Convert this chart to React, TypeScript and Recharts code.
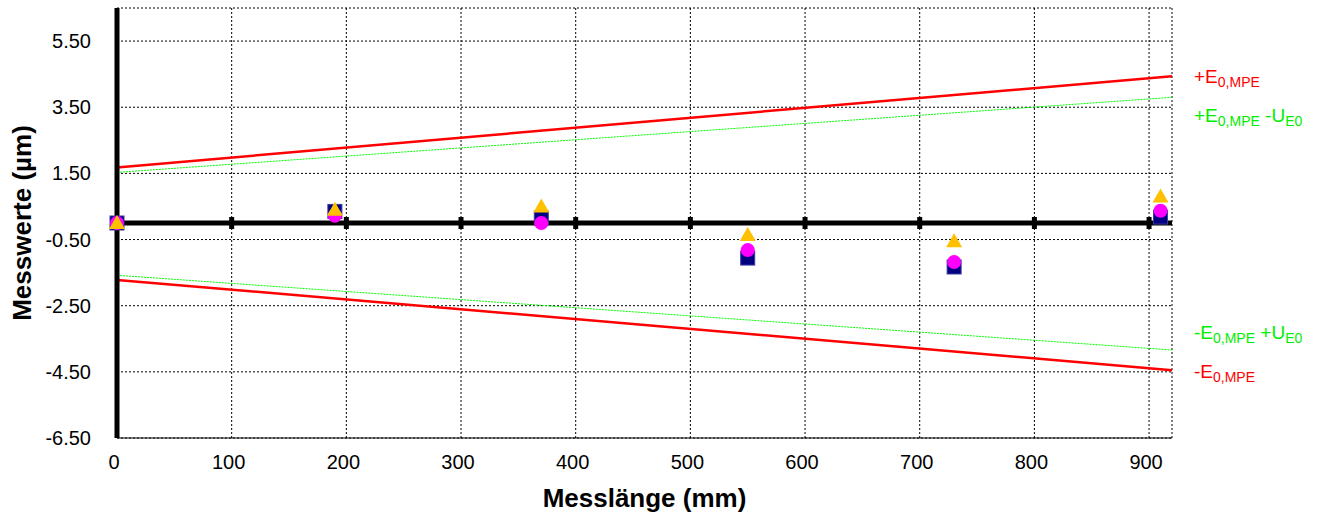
import { ComposedChart, Line, Scatter, XAxis, YAxis, CartesianGrid, ReferenceLine } from "recharts";

// measuring positions (mm) and the three measurement runs (µm)
const lengths = [0, 190, 370, 550, 730, 910];
const runSquare = [0, 0.35, 0.15, -1.06, -1.33, 0.18];
const runCircle = [0, 0.22, 0, -0.82, -1.18, 0.37];
const runTriangle = [0, 0.4, 0.5, -0.36, -0.55, 0.8];

// limit lines, read at both ends of the axis
const limitX = [0, 920];
const plusMpe = [1.68, 4.44];
const plusMpeMinusU = [1.53, 3.8];
const minusMpePlusU = [-1.58, -3.84];
const minusMpe = [-1.72, -4.45];

// little black marks on the zero line
const zeroMarks = [0, 100, 200, 300, 400, 500, 600, 700, 800, 900];

const xTicks = [0, 100, 200, 300, 400, 500, 600, 700, 800, 900];
const yTicks = [-6.5, -4.5, -2.5, -0.5, 1.5, 3.5, 5.5];

const font = "'Liberation Sans', Arial, sans-serif";

const toPoints = (xs: number[], ys: number[]) => xs.map((x, i) => ({ x, y: ys[i] }));

const squareShape = (p: any) => (
  <rect x={p.cx - 7} y={p.cy - 7} width={14} height={14} fill="#000080" stroke="#3a3aa0" strokeWidth={1} />
);
const circleShape = (p: any) => <circle cx={p.cx} cy={p.cy} r={7} fill="#ff00ff" />;
const triangleShape = (p: any) => (
  <polygon points={`${p.cx},${p.cy - 8} ${p.cx + 8},${p.cy + 6} ${p.cx - 8},${p.cy + 6}`} fill="#ffc000" />
);
const zeroMark = (p: any) => <rect x={p.cx - 2.5} y={p.cy - 6} width={5} height={12} fill="#000" />;

const endLabel = (sign: string, extra: string | null, color: string, dy: number) => (props: any) => {
  if (props.index !== limitX.length - 1) return null;
  return (
    <text x={props.x + 22} y={props.y + dy} fill={color} fontSize={19} fontFamily={font}>
      <tspan>{sign}E</tspan>
      <tspan fontSize={14} dy={4}>0,MPE</tspan>
      {extra && (
        <>
          <tspan dy={-4}>{` ${extra}U`}</tspan>
          <tspan fontSize={14} dy={4}>E0</tspan>
        </>
      )}
    </text>
  );
};

export default function App() {
  return (
    <div style={{ position: "absolute", left: 0, top: 0, background: "#fff" }}>
      <ComposedChart width={1322} height={514} margin={{ top: 8, right: 150, bottom: 0, left: 0 }} style={{ fontFamily: font }}>
        <CartesianGrid stroke="#000" strokeDasharray="2 2" strokeWidth={1} />
        <XAxis
          type="number"
          dataKey="x"
          domain={[0, 920]}
          ticks={xTicks}
          height={76}
          tickLine={false}
          tickSize={14}
          tickMargin={3}
          tick={{ fontSize: 20, fill: "#000", dx: -3, fontFamily: font }}
          axisLine={{ stroke: "#000", strokeWidth: 1 }}
          label={{ value: "Messlänge (mm)", position: "insideBottom", offset: 7, fontSize: 26, fontWeight: "bold", fill: "#000", fontFamily: font }}
        />
        <XAxis xAxisId="top" type="number" orientation="top" domain={[0, 920]} height={0} tick={false} tickLine={false} axisLine={{ stroke: "#000" }} />
        <YAxis
          type="number"
          dataKey="y"
          domain={[-6.5, 6.5]}
          ticks={yTicks}
          width={117}
          tickLine={false}
          tickSize={24}
          tickMargin={2}
          tickFormatter={(v: number) => v.toFixed(2)}
          tick={{ fontSize: 20, fill: "#000", fontFamily: font }}
          axisLine={{ stroke: "#000", strokeWidth: 5 }}
          label={{ value: "Messwerte (µm)", angle: -90, position: "insideLeft", offset: 22, fontSize: 26, fontWeight: "bold", fill: "#000", fontFamily: font, style: { textAnchor: "middle" } }}
        />
        <YAxis yAxisId="right" orientation="right" domain={[-6.5, 6.5]} width={0} tick={false} tickLine={false} axisLine={{ stroke: "#000" }} />

        <ReferenceLine y={0} stroke="#000" strokeWidth={5} />
        <Scatter data={toPoints(zeroMarks, zeroMarks.map(() => 0))} shape={zeroMark} isAnimationActive={false} />

        <Line data={toPoints(limitX, plusMpeMinusU)} dataKey="y" stroke="#00ff00" strokeWidth={1} strokeDasharray="2 1" dot={false} isAnimationActive={false} label={endLabel("+", "-", "#00ee00", 25)} />
        <Line data={toPoints(limitX, minusMpePlusU)} dataKey="y" stroke="#00ff00" strokeWidth={1} strokeDasharray="2 1" dot={false} isAnimationActive={false} label={endLabel("-", "+", "#00ee00", -11)} />
        <Line data={toPoints(limitX, plusMpe)} dataKey="y" stroke="#ff0000" strokeWidth={2.5} dot={false} isAnimationActive={false} label={endLabel("+", null, "#ff0000", 7)} />
        <Line data={toPoints(limitX, minusMpe)} dataKey="y" stroke="#ff0000" strokeWidth={2.5} dot={false} isAnimationActive={false} label={endLabel("-", null, "#ff0000", 8)} />

        <Scatter data={toPoints(lengths, runSquare)} shape={squareShape} isAnimationActive={false} />
        <Scatter data={toPoints(lengths, runCircle)} shape={circleShape} isAnimationActive={false} />
        <Scatter data={toPoints(lengths, runTriangle)} shape={triangleShape} isAnimationActive={false} />
      </ComposedChart>
    </div>
  );
}
